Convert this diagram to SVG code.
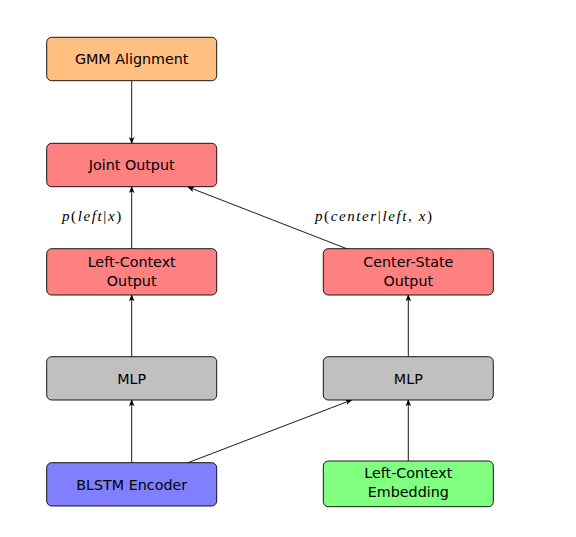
<svg xmlns="http://www.w3.org/2000/svg" width="576" height="537" viewBox="0 0 576 537">
<style>
.box{stroke:#000;stroke-width:0.9}
.t{font-family:"DejaVu Sans","Liberation Sans",sans-serif;font-size:14.3px;text-anchor:middle;fill:#000}
.m{font-family:"Liberation Serif",serif;font-size:15px;font-style:italic;letter-spacing:1.6px;fill:#000}
.u{font-style:normal}
.c{stroke:#000;stroke-width:0.9;fill:none;marker-end:url(#ah)}
</style>
<defs>
<marker id="ah" viewBox="0 0 10 10" refX="9" refY="5" markerWidth="7" markerHeight="7" markerUnits="userSpaceOnUse" orient="auto">
<path d="M0,1 L10,5 L0,9 L2.5,5 Z" fill="#000"/>
</marker>
</defs>
<rect width="576" height="537" fill="#fff"/>
<g id="connectors">
<line class="c" x1="131.7" y1="80.7" x2="131.7" y2="143.3"/>
<line class="c" x1="131.7" y1="248.7" x2="131.7" y2="186.7"/>
<line class="c" x1="346.7" y1="248.7" x2="188" y2="187"/>
<line class="c" x1="131.7" y1="356.7" x2="131.7" y2="295"/>
<line class="c" x1="408.3" y1="356.7" x2="408.3" y2="295"/>
<line class="c" x1="131.7" y1="462.7" x2="131.7" y2="400"/>
<line class="c" x1="188" y1="462.7" x2="351.7" y2="400"/>
<line class="c" x1="408.3" y1="461" x2="408.3" y2="400"/>
<text class="m" x="62" y="221">p<tspan class="u">(</tspan>left<tspan class="u">|</tspan>x<tspan class="u">)</tspan></text>
<text class="m" x="315" y="221">p<tspan class="u">(</tspan>center<tspan class="u">|</tspan>left<tspan class="u">, </tspan>x<tspan class="u">)</tspan></text>
</g>
<g id="gmm">
<rect class="box" x="46.7" y="37.3" width="170" height="43.4" rx="5" fill="#FFBF80"/>
<text class="t" x="131.7" y="63.5">GMM Alignment</text>
</g>
<g id="joint">
<rect class="box" x="46.7" y="143.3" width="170" height="43.4" rx="5" fill="#FF8080"/>
<text class="t" x="131.7" y="169.5">Joint Output</text>
</g>
<g id="leftout">
<rect class="box" x="46.7" y="248.7" width="170" height="46.3" rx="5" fill="#FF8080"/>
<text class="t" x="131.7" y="266.5">Left-Context</text>
<text class="t" x="131.7" y="285.5">Output</text>
</g>
<g id="centerout">
<rect class="box" x="323.3" y="248.7" width="170" height="46.3" rx="5" fill="#FF8080"/>
<text class="t" x="408.3" y="266.5">Center-State</text>
<text class="t" x="408.3" y="285.5">Output</text>
</g>
<g id="mlp1">
<rect class="box" x="46.7" y="356.7" width="170" height="43.3" rx="5" fill="#C0C0C0"/>
<text class="t" x="131.7" y="383.5">MLP</text>
</g>
<g id="mlp2">
<rect class="box" x="323.3" y="356.7" width="170" height="43.3" rx="5" fill="#C0C0C0"/>
<text class="t" x="408.3" y="383.5">MLP</text>
</g>
<g id="blstm">
<rect class="box" x="46.7" y="462.7" width="170" height="43.3" rx="5" fill="#8080FF"/>
<text class="t" x="131.7" y="489.5">BLSTM Encoder</text>
</g>
<g id="embed">
<rect class="box" x="323.3" y="461" width="170" height="45.7" rx="5" fill="#80FF80"/>
<text class="t" x="408.3" y="478">Left-Context</text>
<text class="t" x="408.3" y="497">Embedding</text>
</g>
</svg>
